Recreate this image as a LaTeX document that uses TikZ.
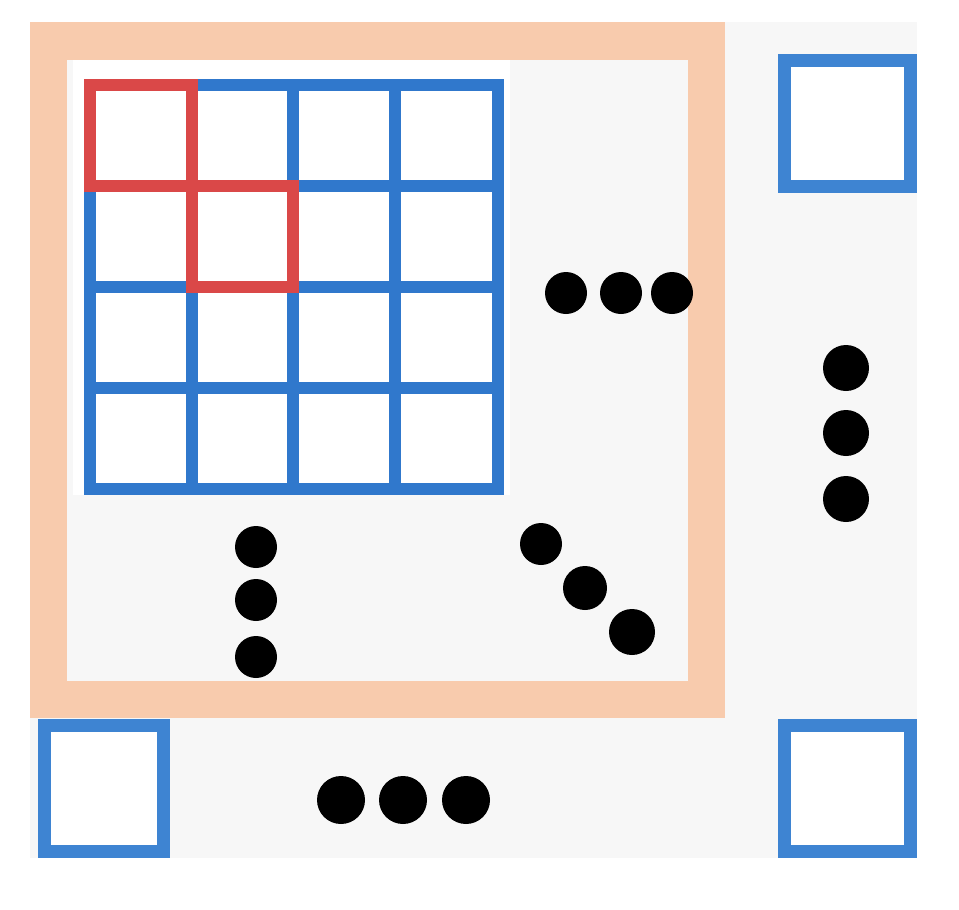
\documentclass[tikz,border=0pt]{standalone}
\definecolor{bgray}{HTML}{F7F7F7}
\definecolor{peach}{HTML}{F8CBAD}
\definecolor{gblue}{RGB}{48,120,204}
\definecolor{sblue}{RGB}{62,132,210}
\definecolor{gred}{RGB}{218,72,72}
\tikzset{
  gridline/.style={gblue, line width=12pt, line cap=rect},
  redline/.style={gred, line width=12pt, line cap=rect, line join=miter},
  cellbox/.style={sblue, fill=white, line width=13pt},
  dotmark/.style={fill=black}
}
\begin{document}
\begin{tikzpicture}[x=1pt,y=-1pt]
\useasboundingbox (0,0) rectangle (959,910);
\fill[white] (0,0) rectangle (959,910);
\fill[bgray] (30,22) rectangle (917,858);
% orange frame
\fill[peach] (30,22) rectangle (725,718);
\fill[bgray] (67,60) rectangle (688,681);
\fill[white] (73,60) rectangle (510,495);
% grid
\foreach \x in {90,192,293,395,498} {
  \draw[gridline] (\x,85) -- (\x,489);
}
\foreach \y in {85,186,287,388,489} {
  \draw[gridline] (90,\y) -- (498,\y);
}
% red cells
\draw[redline] (90,85) rectangle (192,186);
\draw[redline] (192,186) rectangle (293,287);
% dots inside frame
\foreach \x in {566,621,672} { \fill[dotmark] (\x,293) circle (21); }
\foreach \y in {547,600,657} { \fill[dotmark] (256,\y) circle (21); }
\fill[dotmark] (541,544) circle (21);
\fill[dotmark] (585,588) circle (22);
\fill[dotmark] (632,632) circle (23);
% outer squares
\begin{scope}
\clip (30,22) rectangle (917,858);
\draw[cellbox] (784,60) rectangle (910,186);
\draw[cellbox] (44,725) rectangle (163,851);
\draw[cellbox] (784,725) rectangle (910,851);
\end{scope}
% outer dots
\foreach \y in {368,433,499} { \fill[dotmark] (846,\y) circle (23); }
\foreach \x in {341,403,466} { \fill[dotmark] (\x,800) circle (24); }
\end{tikzpicture}
\end{document}
